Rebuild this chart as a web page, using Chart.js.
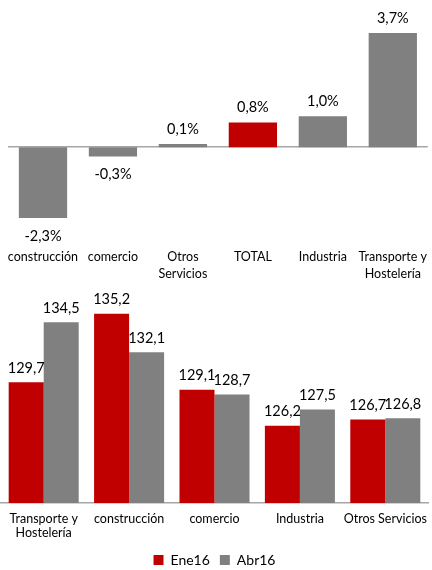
<!DOCTYPE html>
<html>
<head>
<meta charset="utf-8">
<script src="https://cdn.jsdelivr.net/npm/chart.js@4.4.0/dist/chart.umd.min.js"></script>
<style>
  html, body { margin: 0; padding: 0; background: #fff; }
  body { width: 432px; height: 570px; position: relative; overflow: hidden; }
  #w1 { position: absolute; left: 0; top: 0; width: 432px; height: 290px; }
  #w2 { position: absolute; left: 0; top: 285px; width: 432px; height: 292px; }
</style>
</head>
<body>
<div id="w1"><canvas id="c1"></canvas></div>
<div id="w2"><canvas id="c2"></canvas></div>
<script>
// ---- data ----
const topCategories = ['construcción', 'comercio', ['Otros', 'Servicios'], 'TOTAL', 'Industria', ['Transporte y', 'Hostelería']];
const topValues = [-2.3, -0.3, 0.1, 0.8, 1.0, 3.7];
const topHighlight = 'TOTAL';

const bottomCategories = [['Transporte y', 'Hostelería'], 'construcción', 'comercio', 'Industria', 'Otros Servicios'];
const seriesNames = ['Ene16', 'Abr16'];
const ene16 = [129.7, 135.2, 129.1, 126.2, 126.7];
const abr16 = [134.5, 132.1, 128.7, 127.5, 126.8];

// ---- styles ----
const RED = '#C00000';
const GRAY = '#808080';
const AXIS = '#A6A6A6';
const FONT = 'Lato, "Open Sans", sans-serif';

function fmt(v, dec) { return v.toFixed(dec).replace('.', ','); }

function labelPlugin(id, formatter, upOffset, downOffset, fontSize) {
  return {
    id: id,
    afterDatasetsDraw(chart) {
      const ctx = chart.ctx;
      ctx.save();
      ctx.font = fontSize + 'px ' + FONT;
      ctx.fillStyle = '#000';
      ctx.textAlign = 'center';
      ctx.textBaseline = 'middle';
      chart.data.datasets.forEach((ds, di) => {
        const meta = chart.getDatasetMeta(di);
        meta.data.forEach((el, i) => {
          const v = ds.data[i];
          const y = v >= 0 ? el.y - upOffset : el.y + downOffset;
          ctx.fillText(formatter(v), el.x, y);
        });
      });
      ctx.restore();
    }
  };
}

// ---- top chart ----
new Chart(document.getElementById('c1'), {
  type: 'bar',
  data: {
    labels: topCategories,
    datasets: [{
      data: topValues,
      backgroundColor: topCategories.map(c => c === topHighlight ? RED : GRAY),
      barPercentage: 0.69,
      categoryPercentage: 1.0
    }]
  },
  options: {
    responsive: true,
    maintainAspectRatio: false,
    animation: false,
    layout: { padding: { left: 8, right: 0, top: 18, bottom: 3 } },
    plugins: { legend: { display: false }, tooltip: { enabled: false } },
    scales: {
      x: {
        grid: { display: false },
        border: { display: false },
        ticks: {
          color: '#000',
          font: { family: FONT, size: 12.5, lineHeight: 1.36 },
          padding: 5,
          maxRotation: 0,
          autoSkip: false
        }
      },
      y: {
        min: -2.85,
        max: 4.19,
        ticks: { display: false, stepSize: 0.01 },
        border: { display: false },
        grid: {
          drawTicks: false,
          lineWidth: 1.5,
          color: ctx => (ctx.tick && Math.abs(ctx.tick.value) < 1e-9) ? AXIS : 'rgba(0,0,0,0)'
        }
      }
    }
  },
  plugins: [labelPlugin('lbl1', v => fmt(v, 1) + '%', 15, 18, 14.5)]
});

// ---- bottom chart ----
new Chart(document.getElementById('c2'), {
  type: 'bar',
  data: {
    labels: bottomCategories,
    datasets: [
      { label: seriesNames[0], data: ene16, backgroundColor: RED, categoryPercentage: 0.82, barPercentage: 1.0 },
      { label: seriesNames[1], data: abr16, backgroundColor: GRAY, categoryPercentage: 0.82, barPercentage: 1.0 }
    ]
  },
  options: {
    responsive: true,
    maintainAspectRatio: false,
    animation: false,
    layout: { padding: { left: 1, right: 4, top: 0, bottom: 0 } },
    plugins: {
      legend: {
        display: true,
        position: 'bottom',
        labels: {
          color: '#000',
          font: { family: FONT, size: 14 },
          boxWidth: 10,
          boxHeight: 10,
          padding: 10
        }
      },
      tooltip: { enabled: false }
    },
    scales: {
      x: {
        grid: { display: false },
        border: { display: true, color: AXIS, width: 1.5 },
        ticks: {
          color: '#000',
          font: { family: FONT, size: 12.5, lineHeight: 1.1 },
          padding: 1,
          maxRotation: 0,
          autoSkip: false
        },
        afterFit(scale) { scale.height += 2.5; }
      },
      y: {
        display: false,
        min: 120,
        max: 137.5
      }
    }
  },
  plugins: [labelPlugin('lbl2', v => fmt(v, 1), 14, 14, 14.5)]
});
</script>
</body>
</html>
